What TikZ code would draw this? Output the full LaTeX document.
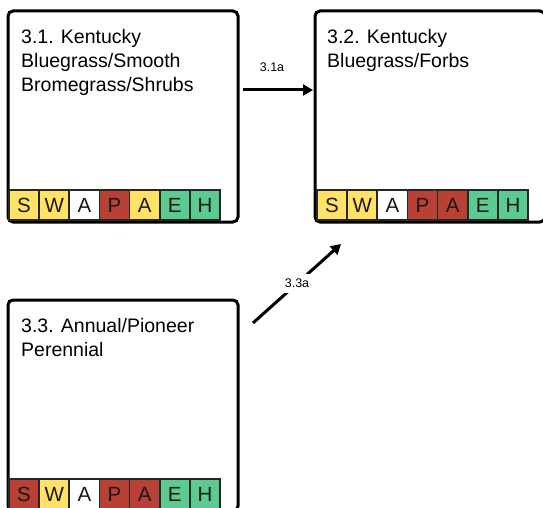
\documentclass[tikz,border=0pt]{standalone}
\usepackage{fontspec}
\setmainfont{Liberation Sans}
\usetikzlibrary{arrows.meta}
\definecolor{cy}{HTML}{FFE266}
\definecolor{cr}{HTML}{B94034}
\definecolor{cg}{HTML}{5CCB92}
\begin{document}
\begin{tikzpicture}[x=1pt,y=-1pt,
  statebox/.style={draw=black, line width=3pt, rounded corners=5pt, minimum width=230pt, minimum height=211pt, inner sep=0pt},
  cell/.style={draw=black!85, line width=1.8pt, minimum width=30.14pt, minimum height=30pt, inner sep=0pt, text=black!90, font=\fontsize{20.5}{21}\selectfont},
  title/.style={anchor=north west, inner sep=0pt, align=left, font=\fontsize{19.5}{24}\selectfont},
  trans/.style={line width=3pt, -{Triangle[length=10pt,width=11pt]}},
  tlabel/.style={font=\fontsize{12.5}{13}\selectfont, inner sep=5pt}]
\useasboundingbox (0,0) rectangle (543,508);
\clip (0,0) rectangle (543,508);
% boxes
\node[statebox] (b1) at (123,116.5) {};
\node[statebox] (b2) at (430,116.5) {};
\node[statebox] (b3) at (123,405.5) {};
% titles
\node[title] (t1) at (21,29) {3.1. Kentucky\\Bluegrass/Smooth\\Bromegrass/Shrubs};
\node[title] (t2) at (327,29) {3.2. Kentucky\\Bluegrass/Forbs};
\node[title] (t3) at (21,318) {3.3. Annual/Pioneer\\Perennial};
% cell rows
\foreach \l/\c [count=\i] in {S/cy,W/cy,A/white,P/cr,A/cy,E/cg,H/cg}
  \node[cell,fill=\c] (ca\i) at ({9+30.14*(\i-0.5)},205) {\l};
\foreach \l/\c [count=\i] in {S/cy,W/cy,A/white,P/cr,A/cr,E/cg,H/cg}
  \node[cell,fill=\c] (cb\i) at ({317+30.14*(\i-0.5)},205) {\l};
\foreach \l/\c [count=\i] in {S/cr,W/cy,A/white,P/cr,A/cr,E/cg,H/cg}
  \node[cell,fill=\c] (cc\i) at ({9+30.14*(\i-0.5)},494) {\l};
% transitions
\coordinate (a1s) at (243,90);
\coordinate (a1e) at (313,90);
\draw[trans] (a1s) -- (a1e);
\node[tlabel] (l1) at (272,67) {3.1a};
\coordinate (a3s) at (253,323);
\coordinate (a3e) at (341,244);
\draw[trans] (a3s) -- node[tlabel, fill=white] (l3) {3.3a} (a3e);
\end{tikzpicture}
\end{document}
